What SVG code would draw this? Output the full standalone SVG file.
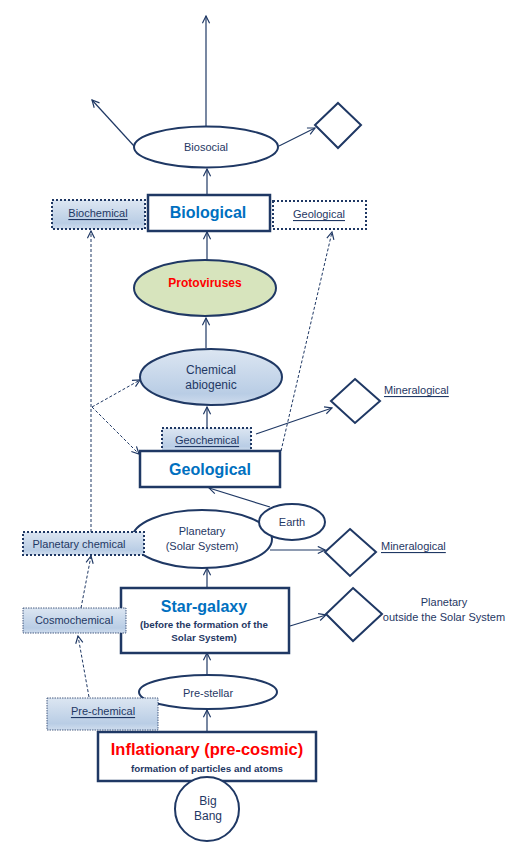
<svg xmlns="http://www.w3.org/2000/svg" width="512" height="846" viewBox="0 0 512 846">
<defs>
<style>
text{font-family:"Liberation Sans",Arial,sans-serif;fill:#1F3864;text-anchor:middle;dominant-baseline:central}
.t11{font-size:11px}
.t12{font-size:12px}
.u{text-decoration:underline}
.big{font-size:16px;font-weight:bold;fill:#0070C0}
.red{fill:#FF0000;font-weight:bold}
.sm{font-size:9.8px;font-weight:bold}
.ol{fill:#fff;stroke:#1F3864;stroke-width:2}
.box{fill:#fff;stroke:#1F3864;stroke-width:2.5}
.dot{stroke:#1F3864;stroke-width:2;stroke-dasharray:2 2}
.thin{stroke:#1F3864;stroke-width:0.8;stroke-dasharray:1.5 1}
.dia{fill:#fff;stroke:#1F3864;stroke-width:2}
.c{fill:none;stroke:#1F3864;stroke-width:1.2}
.d{fill:none;stroke:#1F3864;stroke-width:1;stroke-dasharray:3 2}
</style>
<linearGradient id="gb" x1="0" y1="0" x2="0" y2="1">
<stop offset="0" stop-color="#DCE6F2"/>
<stop offset="0.8" stop-color="#B9CDE5"/>
<stop offset="1" stop-color="#D0DDEE"/>
</linearGradient>
<marker id="a" viewBox="0 0 10 10" refX="9" refY="5" markerWidth="9" markerHeight="9" markerUnits="userSpaceOnUse" orient="auto">
<path d="M1,1 L9,5 L1,9" fill="none" stroke="#1F3864" stroke-width="1.3"/>
</marker>
</defs>

<g id="connectors">
<line class="c" x1="206" y1="127" x2="206" y2="16" marker-end="url(#a)"/>
<line class="c" x1="134" y1="146" x2="92" y2="100" marker-end="url(#a)"/>
<line class="c" x1="279" y1="146" x2="315" y2="128" marker-end="url(#a)"/>
<line class="c" x1="207" y1="194" x2="207" y2="169" marker-end="url(#a)"/>
<line class="c" x1="207" y1="260" x2="207" y2="232" marker-end="url(#a)"/>
<line class="c" x1="206" y1="348" x2="206" y2="318" marker-end="url(#a)"/>
<line class="c" x1="207" y1="428" x2="207" y2="407" marker-end="url(#a)"/>
<line class="d" x1="91" y1="532" x2="91" y2="231" marker-end="url(#a)"/>
<line class="d" x1="92" y1="407" x2="140" y2="380" marker-end="url(#a)"/>
<line class="d" x1="92" y1="407" x2="139" y2="454" marker-end="url(#a)"/>
<line class="c" x1="256" y1="434" x2="332" y2="408" marker-end="url(#a)"/>
<line class="d" x1="281" y1="451" x2="332" y2="232" marker-end="url(#a)"/>
<line class="c" x1="270" y1="507" x2="209" y2="488" marker-end="url(#a)"/>
<line class="c" x1="270" y1="550" x2="325" y2="550" marker-end="url(#a)"/>
<line class="c" x1="207" y1="588" x2="207" y2="568" marker-end="url(#a)"/>
<line class="d" x1="81" y1="608" x2="91" y2="556" marker-end="url(#a)"/>
<line class="c" x1="290" y1="626" x2="326" y2="615" marker-end="url(#a)"/>
<line class="d" x1="89" y1="697" x2="78" y2="636" marker-end="url(#a)"/>
<line class="c" x1="207" y1="675" x2="207" y2="653" marker-end="url(#a)"/>
<line class="c" x1="207" y1="732" x2="207" y2="710" marker-end="url(#a)"/>
</g>

<g id="biosocial">
<ellipse class="ol" cx="206" cy="147" rx="72" ry="20.5"/>
<text class="t11" x="206" y="147">Biosocial</text>
</g>
<g id="diamond-top">
<polygon class="dia" points="338,103 361,125 338,148 315,125"/>
</g>
<g id="biochemical">
<rect x="52" y="200" width="93" height="29" fill="url(#gb)" class="dot"/>
<text class="t11 u" x="98" y="213">Biochemical</text>
</g>
<g id="biological">
<rect class="box" x="148" y="195" width="122" height="36"/>
<text class="big" x="208" y="212">Biological</text>
</g>
<g id="geological-top">
<rect x="273" y="201" width="93" height="28" fill="#fff" class="dot"/>
<text class="t11 u" x="319" y="214">Geological</text>
</g>
<g id="protoviruses">
<ellipse cx="205" cy="288" rx="71" ry="28" fill="#D7E4BD" stroke="#1F3864" stroke-width="2"/>
<text class="t12 red" x="205" y="283">Protoviruses</text>
</g>
<g id="chemical-abiogenic">
<ellipse cx="211" cy="377" rx="71" ry="28" fill="url(#gb)" stroke="#1F3864" stroke-width="2"/>
<text class="t12" x="211" y="370">Chemical</text>
<text class="t12" x="211" y="385">abiogenic</text>
</g>
<g id="geochemical">
<rect x="162" y="428" width="89" height="23" fill="url(#gb)" class="dot"/>
<text class="t11 u" x="207" y="440">Geochemical</text>
</g>
<g id="mineralogical-1">
<polygon class="dia" points="355,379 380,401 355,423 331,401"/>
<text class="t11 u" x="384" y="390" style="text-anchor:start">Mineralogical</text>
</g>
<g id="geological">
<rect class="box" x="140" y="451" width="140" height="36"/>
<text class="big" x="210" y="469">Geological</text>
</g>
<g id="planetary">
<ellipse class="ol" cx="202" cy="539" rx="70" ry="29"/>
<text class="t11" x="202" y="531">Planetary</text>
<text class="t11" x="202" y="546">(Solar System)</text>
</g>
<g id="earth">
<ellipse class="ol" cx="292" cy="522" rx="33" ry="18"/>
<text class="t11" x="292" y="522">Earth</text>
</g>
<g id="planetary-chemical">
<rect x="23" y="532" width="121" height="23" fill="url(#gb)" class="dot"/>
<text class="t11" x="79" y="544">Planetary chemical</text>
</g>
<g id="mineralogical-2">
<polygon class="dia" points="350,529 376,552 350,576 325,552"/>
<text class="t11 u" x="381" y="546" style="text-anchor:start">Mineralogical</text>
</g>
<g id="star-galaxy">
<rect class="box" x="121" y="588" width="168" height="65"/>
<text class="big" x="204" y="606">Star-galaxy</text>
<text class="sm" x="204" y="624">(before the formation of the</text>
<text class="sm" x="204" y="637">Solar System)</text>
</g>
<g id="cosmochemical">
<rect x="23" y="608" width="103" height="25" fill="url(#gb)" class="thin"/>
<text class="t11" x="74" y="620">Cosmochemical</text>
</g>
<g id="planetary-outside">
<polygon class="dia" points="353,588 382,614 353,641 326,614"/>
<text class="t11" x="444" y="602">Planetary</text>
<text class="t11" x="444" y="617">outside the Solar System</text>
</g>
<g id="pre-stellar">
<ellipse class="ol" cx="208" cy="692" rx="69" ry="17"/>
<text class="t11" x="208" y="693">Pre-stellar</text>
</g>
<g id="pre-chemical">
<rect x="47" y="698" width="111" height="32" fill="url(#gb)" class="thin"/>
<text class="t11 u" x="103" y="711">Pre-chemical</text>
</g>
<g id="inflationary">
<rect class="box" x="98" y="732" width="218" height="49"/>
<text class="red" style="font-size:16.5px" x="207" y="749">Inflationary (pre-cosmic)</text>
<text class="sm" x="207" y="768">formation of particles and atoms</text>
</g>
<g id="big-bang">
<circle class="ol" cx="207" cy="809" r="32"/>
<text class="t12" x="208" y="801">Big</text>
<text class="t12" x="208" y="816">Bang</text>
</g>
</svg>
